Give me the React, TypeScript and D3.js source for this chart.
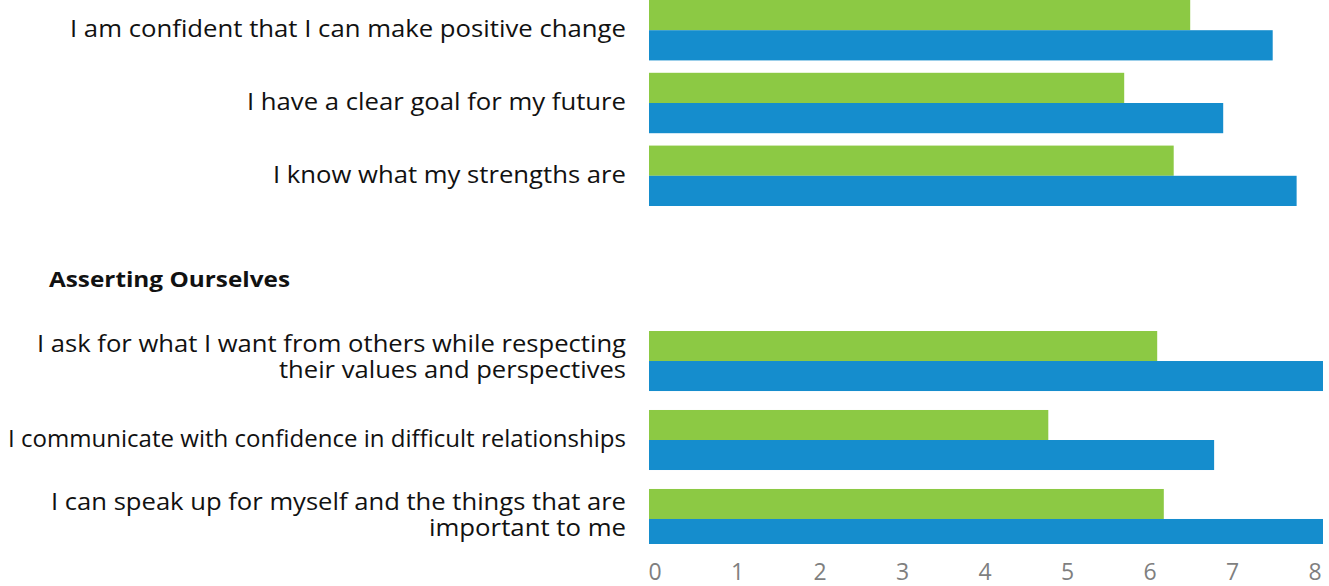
import React from "react";
import * as d3 from "d3";

const topCategories = [
  "I am confident that I can make positive change",
  "I have a clear goal for my future",
  "I know what my strengths are",
];
const topGreen = [6.56, 5.76, 6.36];
const topBlue = [7.56, 6.96, 7.85];

const sectionTitle = "Asserting Ourselves";

const bottomCategories = [
  "I ask for what I want from others while respecting\ntheir values and perspectives",
  "I communicate with confidence in difficult relationships",
  "I can speak up for myself and the things that are\nimportant to me",
];
const bottomGreen = [6.16, 4.84, 6.24];
const bottomBlue = [8.4, 6.85, 8.4];

const ticks = [0, 1, 2, 3, 4, 5, 6, 7, 8];

const W = 1329;
const H = 586;
const GREEN = "#8cc944";
const BLUE = "#158dcd";
const FONT = "'Open Sans', 'Noto Sans', sans-serif";

// measured widths of label lines in the reference
const labelWidths: Record<string, number> = {
  "I am confident that I can make positive change": 556,
  "I have a clear goal for my future": 379,
  "I know what my strengths are": 353,
  "I ask for what I want from others while respecting": 589,
  "their values and perspectives": 347,
  "I communicate with confidence in difficult relationships": 618,
  "I can speak up for myself and the things that are": 575,
  "important to me": 197,
};

export default function App() {
  const x = d3.scaleLinear().domain([0, 8]).range([649, 649 + 8 * 82.5]);
  const yTop = d3.scaleBand<string>().domain(topCategories).range([0, 206]).paddingInner(0.17);
  const yBot = d3.scaleBand<string>().domain(bottomCategories).range([331, 549]).paddingInner(0.24);
  const labelRight = 626;
  const clipRight = 1323;
  const clipBottom = 544;

  const renderGroup = (
    cats: string[],
    green: number[],
    blue: number[],
    y: d3.ScaleBand<string>,
    key: string
  ) => {
    const inner = d3.scaleBand<string>().domain(["g", "b"]).range([0, y.bandwidth()]);
    return cats.map((c, i) => {
      const y0 = y(c)!;
      const cy = y0 + y.bandwidth() / 2;
      const lines = c.split("\n");
      const baselines = lines.length === 1 ? [cy + 7] : [cy - 9, cy + 17];
      return (
        <g key={key + i}>
          <rect x={x(0)} y={y0 + inner("g")!} width={x(green[i]) - x(0)} height={inner.bandwidth()} fill={GREEN} />
          <rect x={x(0)} y={y0 + inner("b")!} width={x(blue[i]) - x(0)} height={inner.bandwidth()} fill={BLUE} clipPath="url(#plotClip)" />
          <text
            textAnchor="end"
            fontFamily={FONT}
            fontSize={lines.length === 1 ? 24 : 23}
            fill="#111"
          >
            {lines.map((ln, j) => (
              <tspan
                key={j}
                x={labelRight}
                y={baselines[j]}
                textLength={labelWidths[ln]}
                lengthAdjust="spacingAndGlyphs"
              >
                {ln}
              </tspan>
            ))}
          </text>
        </g>
      );
    });
  };

  return (
    <svg width={W} height={H} style={{ position: "absolute", left: 0, top: 0, background: "#fff" }}>
      <defs>
        <clipPath id="plotClip">
          <rect x={0} y={0} width={clipRight} height={clipBottom} />
        </clipPath>
      </defs>
      <rect x={0} y={0} width={W} height={H} fill="#fff" />
      {renderGroup(topCategories, topGreen, topBlue, yTop, "t")}
      <text
        x={49}
        y={287}
        fontFamily={FONT}
        fontSize={22}
        fontWeight="bold"
        fill="#111"
        textLength={241}
        lengthAdjust="spacingAndGlyphs"
      >
        {sectionTitle}
      </text>
      {renderGroup(bottomCategories, bottomGreen, bottomBlue, yBot, "b")}
      {ticks.map((t) => (
        <text
          key={t}
          x={x(t) + 6}
          y={580}
          textAnchor="middle"
          fontFamily={FONT}
          fontSize={23}
          fill="#7f7f7f"
        >
          {t}
        </text>
      ))}
    </svg>
  );
}
